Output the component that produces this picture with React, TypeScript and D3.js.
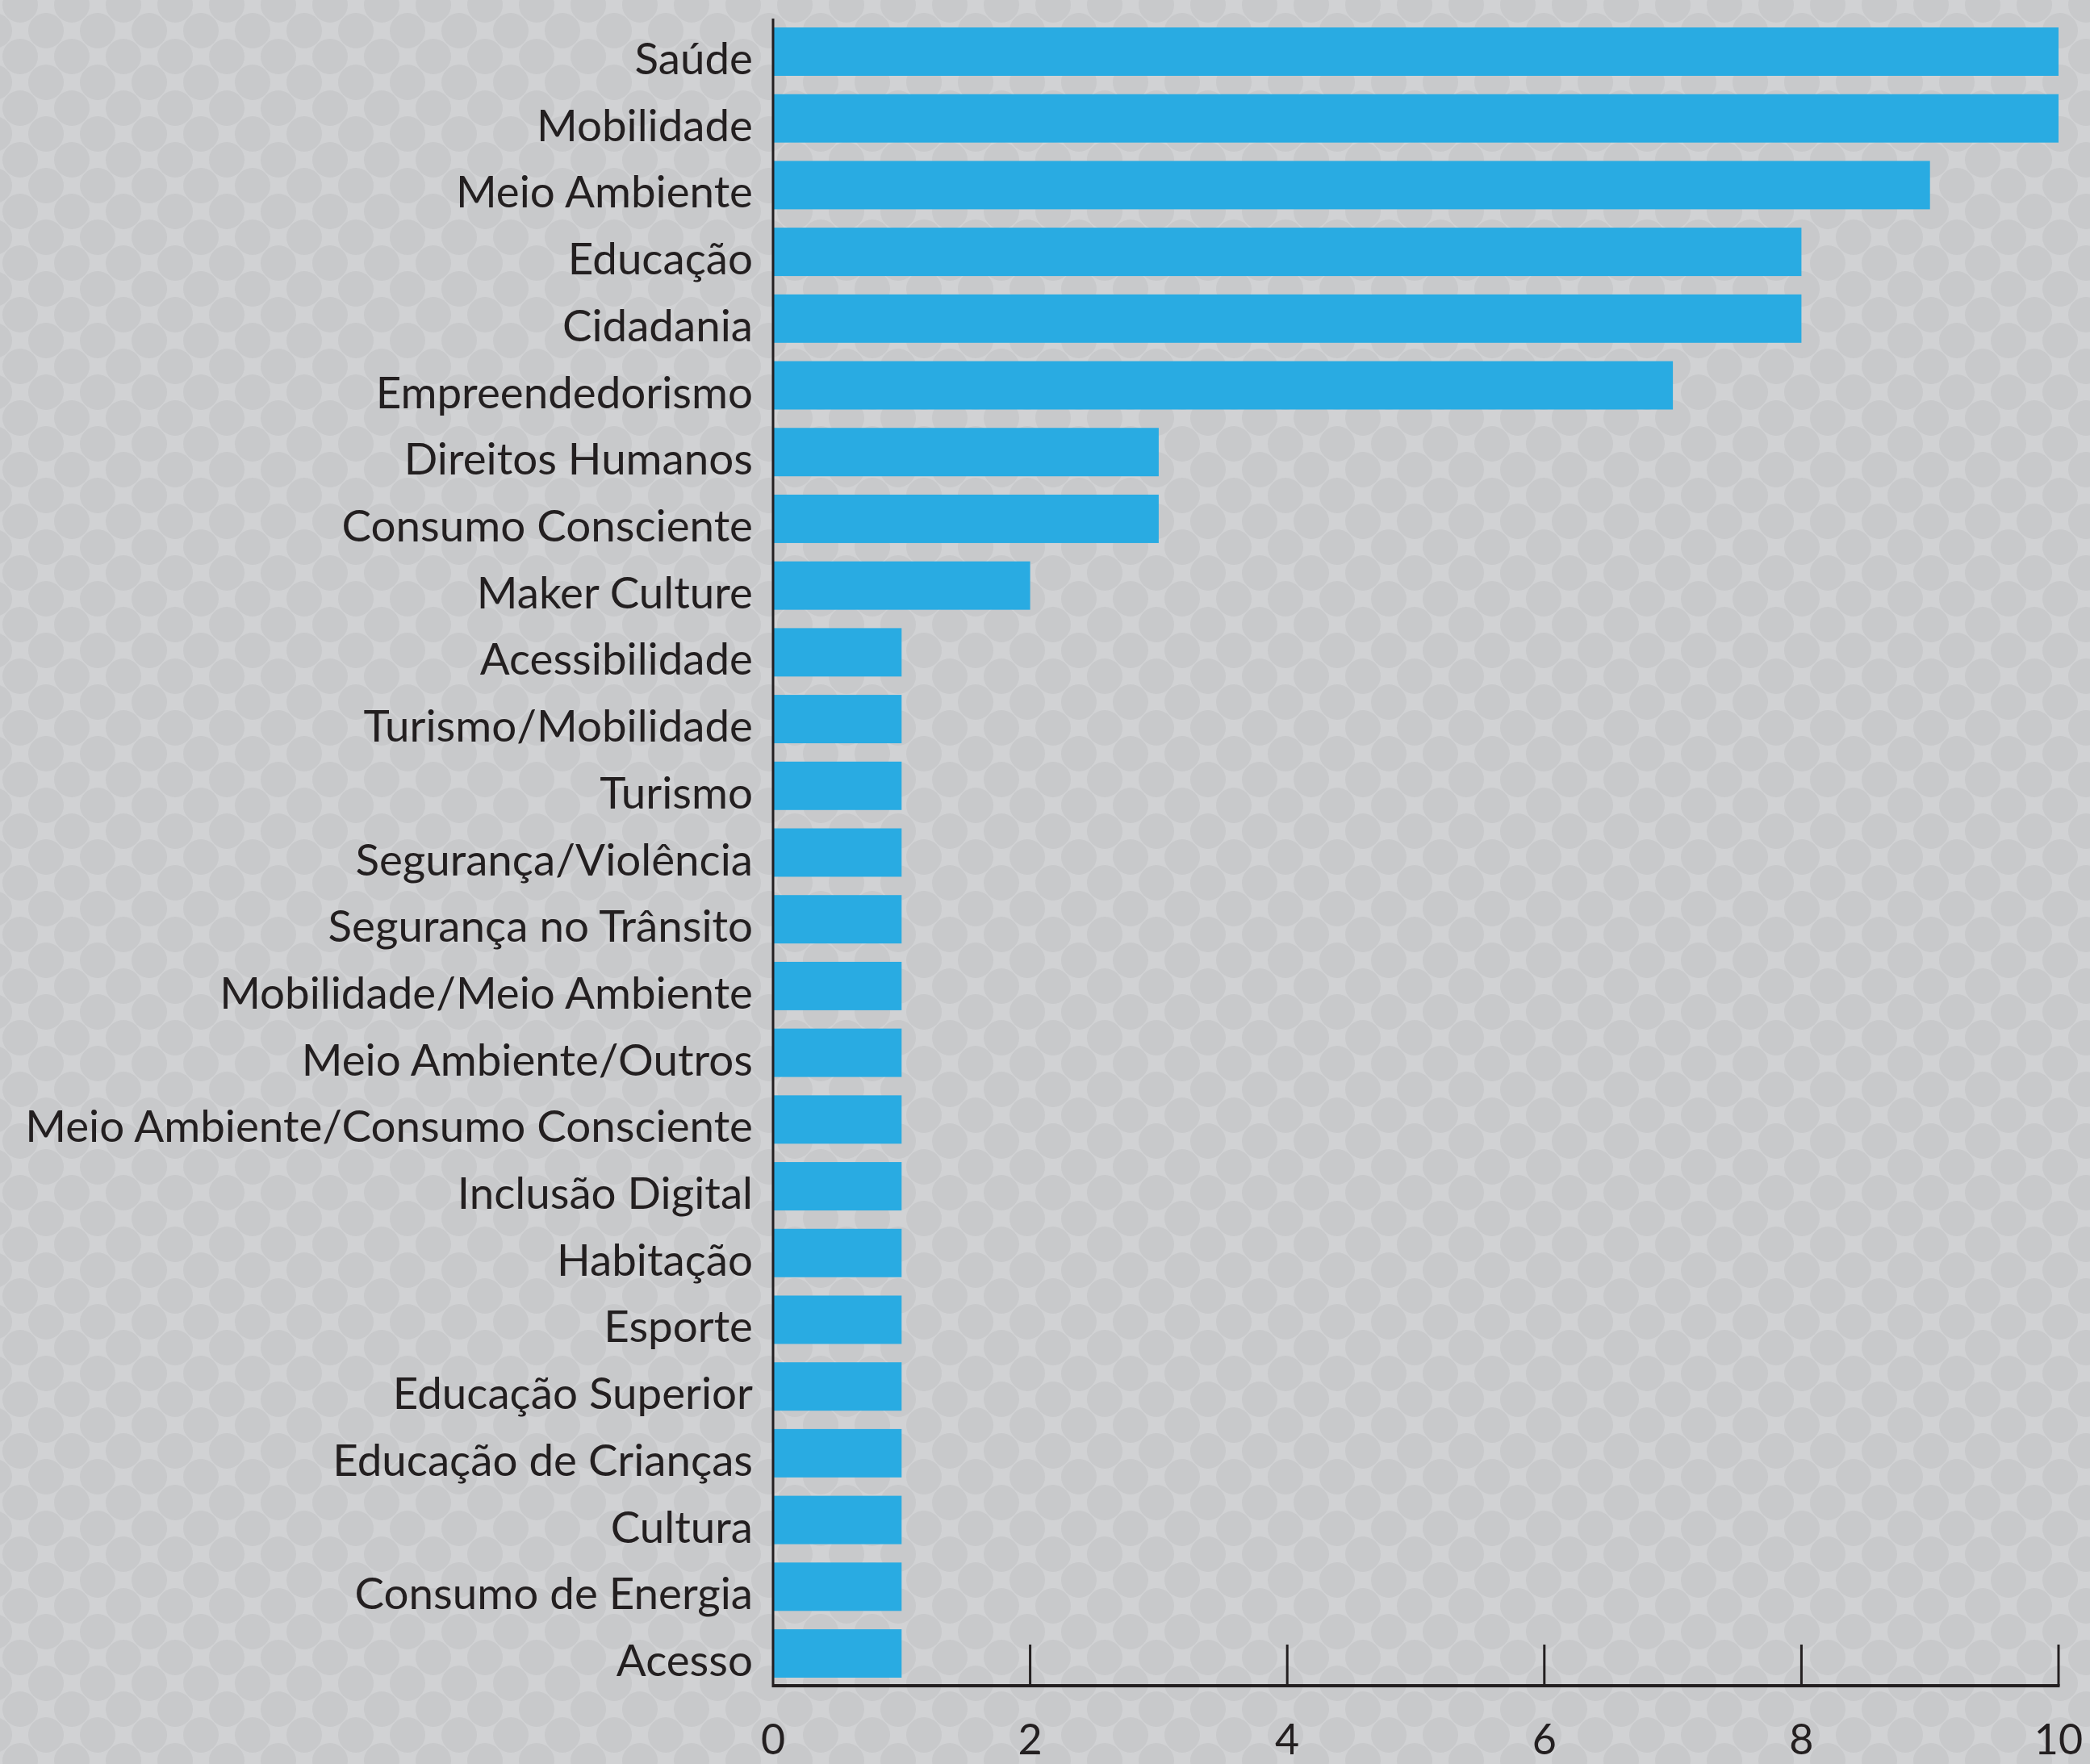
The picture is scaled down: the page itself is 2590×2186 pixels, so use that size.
import React, { useEffect } from "react";
import * as d3 from "d3";

const categories = [
  "Saúde",
  "Mobilidade",
  "Meio Ambiente",
  "Educação",
  "Cidadania",
  "Empreendedorismo",
  "Direitos Humanos",
  "Consumo Consciente",
  "Maker Culture",
  "Acessibilidade",
  "Turismo/Mobilidade",
  "Turismo",
  "Segurança/Violência",
  "Segurança no Trânsito",
  "Mobilidade/Meio Ambiente",
  "Meio Ambiente/Outros",
  "Meio Ambiente/Consumo Consciente",
  "Inclusão Digital",
  "Habitação",
  "Esporte",
  "Educação Superior",
  "Educação de Crianças",
  "Cultura",
  "Consumo de Energia",
  "Acesso",
];

const values = [10, 10, 9, 8, 8, 7, 3, 3, 2, 1, 1, 1, 1, 1, 1, 1, 1, 1, 1, 1, 1, 1, 1, 1, 1];

const xTicks = [0, 2, 4, 6, 8, 10];

const W = 2590;
const H = 2186;

export default function App() {
  useEffect(() => {
    document.body.style.margin = "0";
  }, []);

  const left = 958;
  const right = 2551;
  const axisY = 2089;

  const x = d3.scaleLinear().domain([0, 10]).range([left, right]);
  const y = d3
    .scaleBand<string>()
    .domain(categories)
    .range([34, 2079])
    .paddingInner(0.275)
    .paddingOuter(0);

  const textColor = "#231f20";
  const labelFont = "Lato, 'Open Sans', sans-serif";

  return (
    <svg width={W} height={H} style={{ display: "block" }}>
      <defs>
        <pattern id="dots" width={64} height={64} patternUnits="userSpaceOnUse" x={25} y={6}>
          <rect width={64} height={64} fill="#d1d2d4" />
          <circle cx={0} cy={0} r={22} fill="#c8c9cb" />
          <circle cx={64} cy={0} r={22} fill="#c8c9cb" />
          <circle cx={0} cy={64} r={22} fill="#c8c9cb" />
          <circle cx={64} cy={64} r={22} fill="#c8c9cb" />
          <circle cx={32} cy={32} r={22} fill="#c8c9cb" />
        </pattern>
      </defs>
      <rect width={W} height={H} fill="url(#dots)" />

      {/* bars */}
      {categories.map((c, i) => (
        <rect
          key={c}
          x={x(0)}
          y={y(c)!}
          width={x(values[i]) - x(0)}
          height={y.bandwidth()}
          fill="#29abe2"
        />
      ))}

      {/* category labels */}
      {categories.map((c) => (
        <text
          key={"l" + c}
          x={left - 25}
          y={y(c)! + y.bandwidth() / 2 + 28}
          textAnchor="end"
          fontFamily={labelFont}
          fontSize={54.7}
          fill={textColor}
        >
          {c}
        </text>
      ))}

      {/* axes */}
      <line x1={left} x2={left} y1={23} y2={axisY + 2} stroke={textColor} strokeWidth={3} />
      <line x1={left} x2={right + 1.5} y1={axisY} y2={axisY} stroke={textColor} strokeWidth={4} />
      {xTicks
        .filter((t) => t !== 0)
        .map((t) => (
          <line
            key={"t" + t}
            x1={x(t)}
            x2={x(t)}
            y1={axisY - 51}
            y2={axisY}
            stroke={textColor}
            strokeWidth={3}
          />
        ))}
      {xTicks.map((t) => (
        <text
          key={"tl" + t}
          x={x(t)}
          y={2174}
          textAnchor="middle"
          fontFamily={labelFont}
          fontSize={52}
          fill={textColor}
        >
          {t}
        </text>
      ))}
    </svg>
  );
}
